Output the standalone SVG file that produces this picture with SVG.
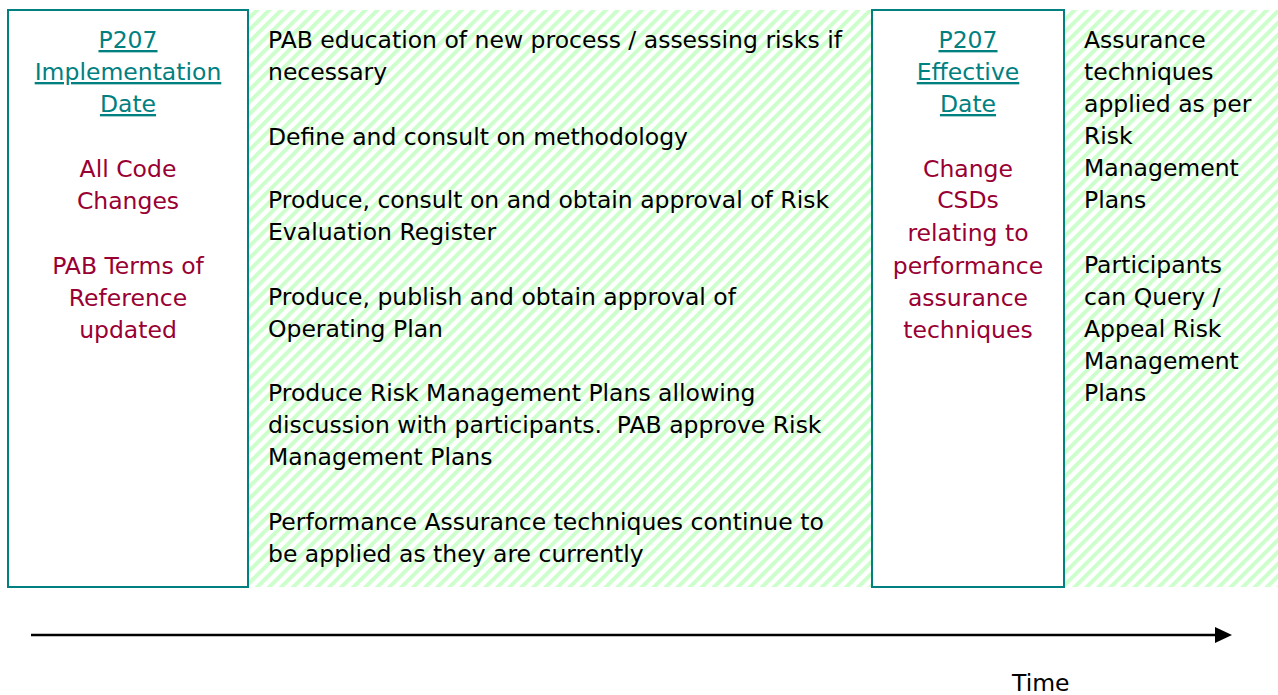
<svg xmlns="http://www.w3.org/2000/svg" width="1278" height="695" viewBox="0 0 1278 695">
<style>
text{font-family:"DejaVu Sans",sans-serif;font-size:23.5px}
.t{fill:#000}
.lk{fill:#008080;text-decoration:underline}
.rd{fill:#990033}
.box{fill:#fff;stroke:#008080;stroke-width:2}
</style>
<defs>
<pattern id="hatch" patternUnits="userSpaceOnUse" width="8.5" height="8.5" patternTransform="rotate(45)">
<rect width="8.5" height="8.5" fill="#fff"/>
<rect width="4" height="8.5" fill="#ccffcc"/>
</pattern>
</defs>
<rect x="0" y="0" width="1278" height="695" fill="#fff"/>
<rect id="background-hatch" x="248" y="10" width="1030" height="577" fill="url(#hatch)"/>
<g id="implementation-date">
<rect class="box" x="8" y="10" width="240" height="577"/>
<text class="lk" text-anchor="middle"><tspan x="128" y="48">P207</tspan><tspan x="128" y="80">Implementation</tspan><tspan x="128" y="112">Date</tspan></text>
<text class="rd" text-anchor="middle"><tspan x="128" y="177">All Code</tspan><tspan x="128" y="209">Changes</tspan><tspan x="128" y="274">PAB Terms of</tspan><tspan x="128" y="306">Reference</tspan><tspan x="128" y="338">updated</tspan></text>
</g>
<g id="activities">
<text class="t"><tspan x="268" y="48">PAB education of new process / assessing risks if</tspan><tspan x="268" y="80">necessary</tspan><tspan x="268" y="145">Define and consult on methodology</tspan><tspan x="268" y="208">Produce, consult on and obtain approval of Risk</tspan><tspan x="268" y="240">Evaluation Register</tspan><tspan x="268" y="305">Produce, publish and obtain approval of</tspan><tspan x="268" y="337">Operating Plan</tspan><tspan x="268" y="401">Produce Risk Management Plans allowing</tspan><tspan x="268" y="433" xml:space="preserve">discussion with participants.  PAB approve Risk</tspan><tspan x="268" y="465">Management Plans</tspan><tspan x="268" y="530">Performance Assurance techniques continue to</tspan><tspan x="268" y="562">be applied as they are currently</tspan></text>
</g>
<g id="effective-date">
<rect class="box" x="872" y="10" width="192" height="577"/>
<text class="lk" text-anchor="middle"><tspan x="968" y="48">P207</tspan><tspan x="968" y="80">Effective</tspan><tspan x="968" y="112">Date</tspan></text>
<text class="rd" text-anchor="middle"><tspan x="968" y="177">Change</tspan><tspan x="968" y="208">CSDs</tspan><tspan x="968" y="241">relating to</tspan><tspan x="968" y="274">performance</tspan><tspan x="968" y="306">assurance</tspan><tspan x="968" y="338">techniques</tspan></text>
</g>
<g id="after-effective">
<text class="t"><tspan x="1084" y="48">Assurance</tspan><tspan x="1084" y="80">techniques</tspan><tspan x="1084" y="112">applied as per</tspan><tspan x="1084" y="144">Risk</tspan><tspan x="1084" y="176">Management</tspan><tspan x="1084" y="208">Plans</tspan><tspan x="1084" y="273">Participants</tspan><tspan x="1084" y="305">can Query /</tspan><tspan x="1084" y="337">Appeal Risk</tspan><tspan x="1084" y="369">Management</tspan><tspan x="1084" y="401">Plans</tspan></text>
</g>
<g id="connectors">
<line x1="31" y1="635" x2="1218" y2="635" stroke="#000" stroke-width="2.5"/>
<path d="M1215,627 L1232,635 L1215,643 z" fill="#000"/>
</g>
<g id="time-label">
<text class="t" x="1012" y="691">Time</text>
</g>
</svg>
